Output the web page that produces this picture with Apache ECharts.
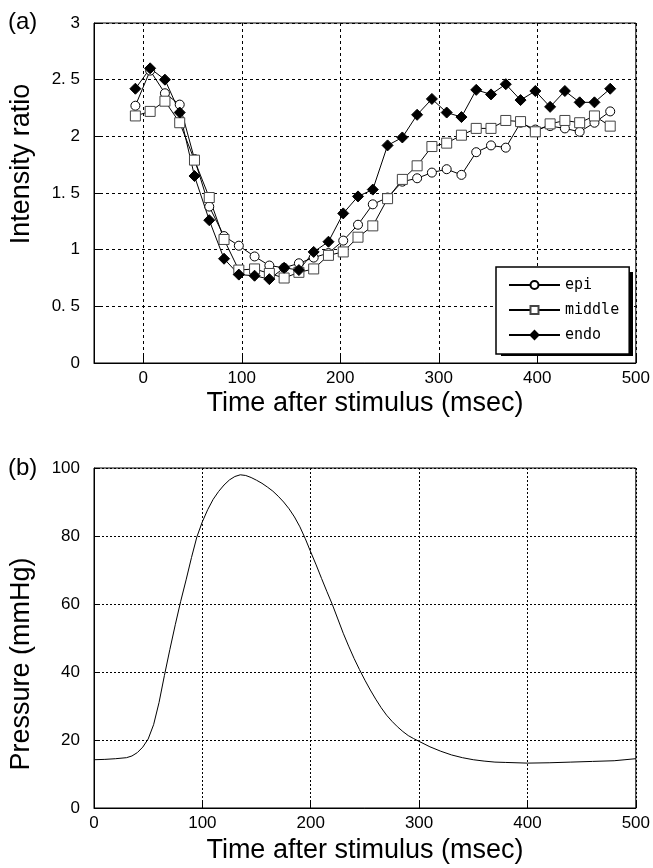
<!DOCTYPE html>
<html><head><meta charset="utf-8">
<script src="https://cdn.jsdelivr.net/npm/echarts@6/dist/echarts.min.js"></script>
<style>html,body{margin:0;padding:0;background:#fff;}#c{width:653px;height:868px;}</style>
</head><body><div id="c"></div>
<script>
// ---- Data (a): intensity ratio ----
const frameTimes = [-8, 7, 22, 37, 52, 67, 82, 97, 113, 128, 143, 158, 173, 188, 203, 218, 233, 248, 263, 278, 293, 308, 323, 338, 353, 368, 383, 398, 413, 428, 443, 458, 474];
const epi    = [2.27, 2.58, 2.38, 2.28, 1.80, 1.38, 1.12, 1.035, 0.94, 0.86, 0.84, 0.88, 0.93, 0.97, 1.08, 1.22, 1.40, 1.46, 1.60, 1.63, 1.68, 1.71, 1.66, 1.86, 1.92, 1.90, 2.12, 2.06, 2.09, 2.07, 2.04, 2.12, 2.22];
const middle = [2.18, 2.22, 2.31, 2.12, 1.79, 1.46, 1.09, 0.82, 0.83, 0.79, 0.75, 0.80, 0.83, 0.95, 0.98, 1.11, 1.21, 1.45, 1.62, 1.74, 1.91, 1.94, 2.01, 2.07, 2.07, 2.14, 2.13, 2.04, 2.11, 2.14, 2.12, 2.18, 2.09];
const endo   = [2.42, 2.60, 2.50, 2.21, 1.65, 1.26, 0.92, 0.78, 0.77, 0.74, 0.84, 0.82, 0.98, 1.07, 1.32, 1.47, 1.53, 1.92, 1.99, 2.19, 2.33, 2.21, 2.17, 2.41, 2.37, 2.46, 2.32, 2.40, 2.26, 2.40, 2.30, 2.30, 2.42];
// ---- Data (b): pressure ----
const pressTimes = [0, 10, 20, 30, 35, 40, 45, 50, 55, 60, 65, 70, 75, 80, 85, 90, 95, 100, 105, 110, 115, 120, 125, 130, 135, 140, 145, 150, 155, 160, 165, 170, 175, 180, 185, 190, 195, 200, 205, 210, 215, 220, 225, 230, 235, 240, 245, 250, 255, 260, 265, 270, 275, 280, 285, 290, 295, 300, 310, 320, 330, 340, 350, 360, 370, 380, 400, 420, 440, 460, 480, 490, 500];
const pressure   = [14.2, 14.3, 14.5, 14.8, 15.3, 16.3, 17.9, 20.3, 24.5, 31.0, 39.0, 46.6, 53.9, 60.8, 67.1, 73.7, 79.8, 84.2, 87.8, 90.8, 93.1, 95.0, 96.5, 97.5, 98.0, 97.8, 97.2, 96.4, 95.5, 94.4, 93.2, 91.7, 90.0, 88.0, 85.6, 82.7, 79.2, 75.3, 71.5, 67.5, 63.6, 59.8, 55.6, 51.4, 47.6, 44.0, 40.7, 37.6, 34.7, 32.0, 29.5, 27.3, 25.5, 23.9, 22.5, 21.3, 20.4, 19.6, 18.0, 16.7, 15.6, 14.8, 14.2, 13.8, 13.5, 13.4, 13.2, 13.3, 13.5, 13.7, 13.9, 14.2, 14.5];
// ---- Ticks ----
const xTicksA = [0, 100, 200, 300, 400, 500];
const yTicksLabelFmt = v => String(v).replace('.', '. ');

const tickFont = {fontFamily: '"Liberation Sans Narrow", "Liberation Sans", Arial, sans-serif', fontSize: 17, color: '#000'};
const titleFont = '"Liberation Sans", Arial, sans-serif';
const dashed = {color: '#000', type: [3, 3], width: 1};

function pairs(xs, ys) { return xs.map((x, i) => [x, ys[i]]); }

const chart = echarts.init(document.getElementById('c'), null, {renderer: 'canvas'});
chart.setOption({
  animation: false,
  backgroundColor: '#fff',
  grid: [
    {left: 94, right: 16, top: 23, height: 340, show: true, borderColor: '#000', borderWidth: 1, containLabel: false},
    {left: 94, right: 15, top: 468, height: 340, show: true, borderColor: '#000', borderWidth: 1, containLabel: false}
  ],
  xAxis: [
    {type: 'value', gridIndex: 0, min: -50, max: 500,
     name: 'Time after stimulus (msec)', nameLocation: 'middle', nameGap: 27,
     nameTextStyle: {fontFamily: titleFont, fontSize: 27, color: '#000'},
     axisLine: {onZero: false, lineStyle: {color: '#000'}},
     axisTick: {inside: true, length: 7, customValues: xTicksA, lineStyle: {color: '#000'}},
     axisLabel: {customValues: xTicksA, margin: 7, ...tickFont},
     splitLine: {show: true, lineStyle: dashed}},
    {type: 'value', gridIndex: 1, min: 0, max: 500, interval: 100,
     name: 'Time after stimulus (msec)', nameLocation: 'middle', nameGap: 29,
     nameTextStyle: {fontFamily: titleFont, fontSize: 27, color: '#000'},
     axisLine: {onZero: false, lineStyle: {color: '#000'}},
     axisTick: {inside: true, length: 7, lineStyle: {color: '#000'}},
     axisLabel: {margin: 7, ...tickFont},
     splitLine: {show: true, lineStyle: {color: '#000', type: [2, 2], width: 1}}}
  ],
  yAxis: [
    {type: 'value', gridIndex: 0, min: 0, max: 3, interval: 0.5,
     axisLine: {show: true, onZero: false, lineStyle: {color: '#000'}},
     axisTick: {inside: true, length: 6, lineStyle: {color: '#000'}},
     axisLabel: {margin: 14, formatter: yTicksLabelFmt, ...tickFont},
     splitLine: {show: true, lineStyle: dashed}},
    {type: 'value', gridIndex: 1, min: 0, max: 100, interval: 20,
     axisLine: {show: true, onZero: false, lineStyle: {color: '#000'}},
     axisTick: {inside: true, length: 6, lineStyle: {color: '#000'}},
     axisLabel: {margin: 14, ...tickFont},
     splitLine: {show: true, lineStyle: {color: '#000', type: [2, 2], width: 1}}}
  ],
  legend: {
    orient: 'vertical', left: 496, top: 267, z: 10,
    padding: [9, 10, 10, 12], itemGap: 7, itemWidth: 51, itemHeight: 10,
    backgroundColor: '#fff', borderColor: '#000', borderWidth: 1.5,
    textStyle: {fontFamily: '"DejaVu Sans Mono", "Liberation Mono", monospace', fontSize: 15, color: '#000', lineHeight: 18},
    data: ['epi', 'middle', 'endo']
  },
  graphic: [
    {type: 'rect', z: 5, shape: {x: 501, y: 272, width: 132, height: 84}, style: {fill: '#000'}},
    {type: 'text', left: 8, top: 10, style: {text: '(a)', font: '24px "Liberation Sans", Arial, sans-serif', fill: '#000'}},
    {type: 'text', left: 8, top: 456, style: {text: '(b)', font: '24px "Liberation Sans", Arial, sans-serif', fill: '#000'}},
    {type: 'text', x: 22, y: 164, rotation: Math.PI / 2,
     style: {text: 'Intensity ratio', font: '27px "Liberation Sans", Arial, sans-serif', fill: '#000', align: 'center', verticalAlign: 'middle'}},
    {type: 'text', x: 22, y: 664, rotation: Math.PI / 2,
     style: {text: 'Pressure (mmHg)', font: '27px "Liberation Sans", Arial, sans-serif', fill: '#000', align: 'center', verticalAlign: 'middle'}}
  ],
  series: [
    {name: 'epi', type: 'line', xAxisIndex: 0, yAxisIndex: 0, data: pairs(frameTimes, epi),
     symbol: 'circle', symbolSize: 9, showAllSymbol: true,
     lineStyle: {color: '#000', width: 1}, itemStyle: {color: '#fff', borderColor: '#000', borderWidth: 1}},
    {name: 'middle', type: 'line', xAxisIndex: 0, yAxisIndex: 0, data: pairs(frameTimes, middle),
     symbol: 'rect', symbolSize: 10, showAllSymbol: true,
     lineStyle: {color: '#000', width: 1}, itemStyle: {color: '#fff', borderColor: '#444', borderWidth: 1}},
    {name: 'endo', type: 'line', xAxisIndex: 0, yAxisIndex: 0, data: pairs(frameTimes, endo),
     symbol: 'diamond', symbolSize: 11, showAllSymbol: true,
     lineStyle: {color: '#000', width: 1}, itemStyle: {color: '#000', borderColor: '#000', borderWidth: 1}},
    {name: 'pressure', type: 'line', xAxisIndex: 1, yAxisIndex: 1, data: pairs(pressTimes, pressure),
     symbol: 'none', smooth: false, lineStyle: {color: '#000', width: 1}}
  ]
});
</script></body></html>
